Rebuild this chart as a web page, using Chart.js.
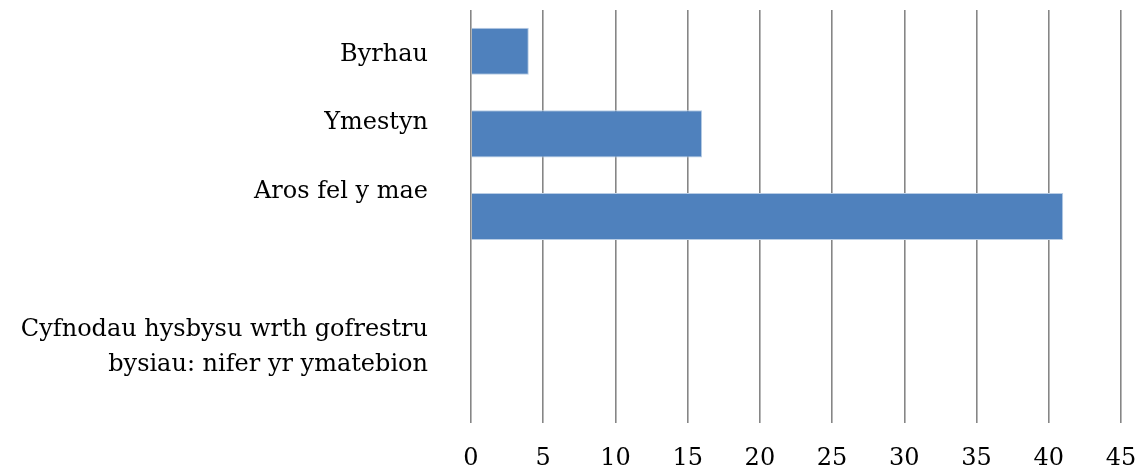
<!DOCTYPE html>
<html>
<head>
<meta charset="utf-8">
<script src="https://cdn.jsdelivr.net/npm/chart.js@4/dist/chart.umd.min.js"></script>
<style>
  body { margin: 0; background: #fff; }
  .wrap { width: 1143px; height: 472px; }
</style>
</head>
<body>
<div class="wrap"><canvas id="grafico"></canvas></div>
<script>
"use strict";
// Dados
const categorias = ["Byrhau", "Ymestyn", "Aros fel y mae"];
const valores = [4, 16, 41];
const titulo = ["Cyfnodau hysbysu wrth gofrestru", "bysiau: nifer yr ymatebion"];
const eixoMax = 45;
const eixoPasso = 5;

// 5 faixas para as barras, 6 faixas para os rótulos (como no original)
const faixasBarras = [...categorias, "", ""];
const dadosBarras = [...valores, null, null];
const faixasRotulos = [...categorias, "", ["", ...titulo], ""];

const fonte = { family: "'DejaVu Serif', serif", size: 24 };

// tira o padding automático dos eixos
const semPadding = (scale) => {
  scale.paddingTop = 0;
  scale.paddingBottom = 0;
  scale.paddingLeft = 0;
  scale.paddingRight = 0;
};

let ctx = document.getElementById("grafico");

let chart = new Chart(ctx, {
  type: "bar",
  data: {
    labels: faixasBarras,
    datasets: [
      {
        data: dadosBarras,
        backgroundColor: "#4f81bd",
        borderColor: "#b9cde5",
        borderWidth: 1,
        barPercentage: 0.57,
        categoryPercentage: 1,
        yAxisID: "y",
      },
    ],
  },
  options: {
    indexAxis: "y",
    responsive: true,
    maintainAspectRatio: false,
    animation: false,
    layout: {
      padding: { top: 10, right: 22, bottom: 0, left: 0 },
    },
    plugins: {
      legend: { display: false },
      tooltip: { enabled: false },
    },
    scales: {
      x: {
        min: 0,
        max: eixoMax,
        ticks: {
          stepSize: eixoPasso,
          color: "#000",
          font: fonte,
          padding: 21,
        },
        grid: {
          color: "#868686",
          lineWidth: 1.6,
          drawTicks: false,
        },
        border: { display: false },
        afterFit: (scale) => {
          scale.height = 49;
          semPadding(scale);
        },
      },
      y: {
        display: false,
        offset: true,
      },
      rotulos: {
        type: "category",
        axis: "y",
        position: "left",
        labels: faixasRotulos,
        offset: true,
        grid: { display: false, drawTicks: false },
        border: { display: false },
        ticks: {
          color: "#000",
          font: { ...fonte, lineHeight: 1.45 },
          padding: 43,
          labelOffset: 10,
          autoSkip: false,
        },
        afterFit: (scale) => {
          scale.width = 471;
          semPadding(scale);
        },
      },
    },
  },
});
</script>
</body>
</html>
